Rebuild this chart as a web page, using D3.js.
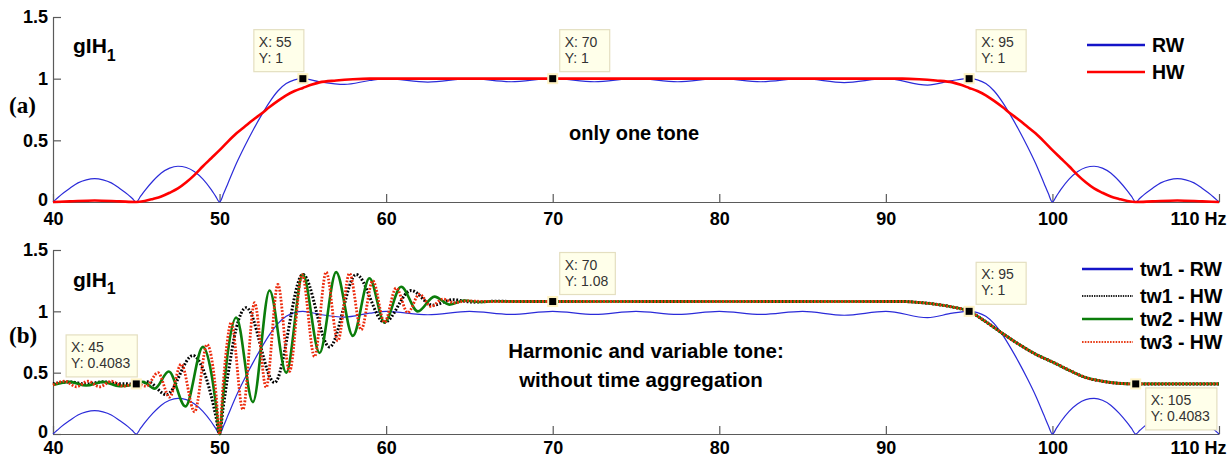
<!DOCTYPE html>
<html>
<head>
<meta charset="utf-8">
<script src="https://cdn.jsdelivr.net/npm/d3@7"></script>
<style>
  body { margin: 0; background: #fff; }
  svg text { font-family: "Liberation Sans", Arial, sans-serif; }
</style>
</head>
<body>
<svg id="chart" width="1232" height="459"></svg>
<script>
// ---- axis ticks ----
const freqTicks = [40, 50, 60, 70, 80, 90, 100, 110];
const freqTickLabels = ["40", "50", "60", "70", "80", "90", "100", "110 Hz"];
const gainTicks = [0, 0.5, 1, 1.5];
const gainTickLabels = ["0", "0.5", "1", "1.5"];

// ---- gain curves, [frequency Hz, gain] ----
// rectangular window (one tone, and tw1 in the lower panel)
const rwGain = [
  [40,0],[40.25,0.03],[40.5,0.06],[41,0.11],[41.5,0.155],[42,0.18],[42.5,0.19],[43,0.18],[43.5,0.155],[44,0.11],[44.5,0.06],[44.75,0.03],[45,0],
  [45.25,0.045],[45.5,0.09],[46,0.17],[46.5,0.235],[47,0.275],[47.5,0.29],[48,0.28],[48.5,0.245],[49,0.185],[49.5,0.1],[49.75,0.05],[50,0],
  [50.25,0.07],[50.5,0.15],[51,0.31],[51.5,0.45],[52,0.58],[52.5,0.7],[53,0.81],[53.5,0.9],[54,0.96],[54.5,0.99],[55,1],
  [56,0.975],[57.5,0.953],[59,0.985],[60,1],[62.5,0.972],[65,1],[67.5,0.975],[70,1],[72.5,0.975],[75,1],[77.5,0.975],[80,1],
  [82.5,0.975],[85,1],[87.5,0.968],[90,1],[92.5,0.948],[94,0.985],[95,1],
  [95.5,0.99],[96,0.96],[96.5,0.9],[97,0.81],[97.5,0.7],[98,0.58],[98.5,0.45],[99,0.31],[99.5,0.15],[99.75,0.07],[100,0],
  [100.25,0.05],[100.5,0.1],[101,0.185],[101.5,0.245],[102,0.28],[102.5,0.29],[103,0.275],[103.5,0.235],[104,0.17],[104.5,0.09],[104.75,0.045],[105,0],
  [105.25,0.03],[105.5,0.06],[106,0.11],[106.5,0.155],[107,0.18],[107.5,0.19],[108,0.18],[108.5,0.155],[109,0.11],[109.5,0.06],[109.75,0.03],[110,0]
];

// Hann window, one tone
const hwGain = [
  [40,0],[41,0.005],[42.5,0.012],[44,0.005],[45,0],[45.5,0.008],[46,0.025],[46.5,0.045],[47,0.075],[47.5,0.11],[48,0.16],
  [48.5,0.22],[49,0.29],[49.5,0.355],[50,0.42],[50.5,0.49],[51,0.555],[51.5,0.61],[52,0.665],[52.5,0.715],[53,0.77],
  [53.5,0.82],[54,0.865],[54.5,0.9],[55,0.925],[55.5,0.95],[56,0.97],[57,0.985],[58,0.995],[59,1],[91,1],
  [92,0.995],[93,0.985],[94,0.97],[94.5,0.95],[95,0.925],[95.5,0.9],[96,0.865],[96.5,0.82],[97,0.77],[97.5,0.715],
  [98,0.665],[98.5,0.61],[99,0.555],[99.5,0.49],[100,0.42],[100.5,0.355],[101,0.29],[101.5,0.22],[102,0.16],[102.5,0.11],
  [103,0.075],[103.5,0.045],[104,0.025],[104.5,0.008],[105,0],[106,0.005],[107.5,0.012],[109,0.005],[110,0]
];

// Hann window, harmonic and variable tone: low-frequency part of each time window
const tw1HwHead = [
  [40,0.41],[41,0.425],[42,0.408],[43,0.425],[44,0.41],[45,0.4083],[45.7,0.425],[46.8,0.32],[48.4,0.64],[49,0.53],
  [49.5,0.31],[49.8,0.13],[50,0],[50.2,0.2],[50.5,0.48],[51,0.86],[51.6,1.03],[53.3,0.42],[55,1.3],[56.6,0.71],
  [58.2,1.3],[59.9,0.91],[61.5,1.17],[62.8,1.05],[64,1.095],[65.2,1.075],[66.5,1.082],[68,1.08]
];
const tw2HwHead = [
  [40,0.4],[41,0.425],[42,0.395],[43,0.425],[44,0.39],[45,0.4083],[45.4,0.425],[46.1,0.37],[46.95,0.51],[47.95,0.225],
  [49,0.71],[49.5,0.5],[49.8,0.22],[50,0],[50.2,0.29],[50.5,0.67],[51,0.95],[52,0.26],[53,1.17],[54,0.5],[55,1.3],
  [56,0.66],[57,1.32],[58,0.8],[59,1.27],[59.9,0.91],[60.9,1.2],[61.9,1],[62.9,1.12],[63.8,1.055],[64.7,1.088],
  [65.6,1.076],[66.5,1.082],[68,1.08]
];
const tw3HwHead = [
  [40,0.4],[40.7,0.43],[41.4,0.385],[42.1,0.43],[42.8,0.385],[43.5,0.43],[44.2,0.39],[45,0.4083],[45.6,0.39],[46.3,0.5],
  [47,0.3],[47.7,0.57],[48.5,0.18],[49.25,0.73],[49.6,0.55],[49.8,0.31],[50,0],[50.2,0.38],[50.4,0.68],[50.7,0.91],
  [51.4,0.2],[52.1,1.07],[52.8,0.38],[53.5,1.22],[54.2,0.51],[54.95,1.3],[55.7,0.63],[56.4,1.32],[57.1,0.76],[57.8,1.31],
  [58.5,0.85],[59.2,1.25],[59.9,0.91],[60.6,1.19],[61.3,0.99],[62,1.14],[62.7,1.04],[63.4,1.1],[64.1,1.07],[64.8,1.085],[66,1.08]
];
// common upper part shared by all three time windows
const twHwTail = [
  [91,1.08],[92,1.072],[93,1.058],[94,1.035],[95,1],[96,0.915],[97,0.82],[98,0.73],[99,0.65],[100,0.587],
  [101,0.52],[102,0.46],[103,0.43],[104,0.413],[105,0.4083],[110,0.4083]
];

// data tips [X, Y]
const tipsA = [[55, 1], [70, 1], [95, 1]];
const tipsB = [[45, 0.4083], [70, 1.08], [95, 1], [105, 0.4083]];

// legend entries
const legendA = ["RW", "HW"];
const legendB = ["tw1 - RW", "tw1 - HW", "tw2 - HW", "tw3 - HW"];

// ---- drawing ----
const svg = d3.select("#chart");
const x = d3.scaleLinear().domain([40, 110]).range([53, 1219]);

const styles = {
  rw:    { stroke: "#2b2bd9", width: 1.2, dash: null },
  hw:    { stroke: "#ff0000", width: 2.6, dash: null },
  tw1:   { stroke: "#000", width: 3, dash: "1.8 1.7" },
  tw2:   { stroke: "#0b7d0b", width: 2.6, dash: null },
  tw3:   { stroke: "#ec2a0c", width: 2.8, dash: "1.8 1.6" }
};
const legendStyles = {
  rw:  { stroke: "#1414c8", width: 2.6, dash: null },
  hw:  { stroke: "#ff0000", width: 2.6, dash: null },
  tw1: { stroke: "#222", width: 1.8, dash: "1.4 1" },
  tw2: { stroke: "#0b7d0b", width: 2.4, dash: null },
  tw3: { stroke: "#e8401c", width: 2, dash: "1.6 1.2" }
};

function applyStyle(sel, s) {
  sel.attr("fill", "none").attr("stroke", s.stroke).attr("stroke-width", s.width);
  if (s.dash) sel.attr("stroke-dasharray", s.dash);
  return sel;
}

function drawAxes(g, y, xPad) {
  const xa = d3.axisBottom(x).tickValues(freqTicks)
    .tickFormat((d, i) => freqTickLabels[i])
    .tickSizeInner(-8).tickSizeOuter(0).tickPadding(xPad);
  const gx = g.append("g").attr("transform", `translate(0,${y(0)})`).call(xa);
  const ya = d3.axisLeft(y).tickValues(gainTicks)
    .tickFormat((d, i) => gainTickLabels[i])
    .tickSizeInner(-8).tickSizeOuter(0).tickPadding(5);
  const gy = g.append("g").attr("transform", `translate(${x(40)},0)`).call(ya);
  [gx, gy].forEach(a => {
    a.attr("font-family", null).attr("font-size", null);
    a.selectAll(".domain, .tick line").attr("stroke", "#5a5a5a").attr("stroke-width", 1.2);
    a.selectAll(".tick text").attr("fill", "#000").attr("font-size", 18).attr("font-weight", "bold");
  });
  // keep the zero label clear of the first frequency label
  gy.selectAll(".tick").filter(d => d === 0).select("text").attr("dy", "0.2em");
  // the unit label rides on the last tick, kept inside the figure
  gx.selectAll(".tick").filter(d => d === 110).select("text")
    .attr("text-anchor", "end").attr("x", 7);
}

function drawCurve(g, y, data, s) {
  const line = d3.line().x(d => x(d[0])).y(d => y(d[1])).curve(d3.curveMonotoneX);
  applyStyle(g.append("path").datum(data).attr("d", line), s);
}

function drawTip(g, y, d, place) {
  const px = x(d[0]), py = y(d[1]);
  const lines = ["X: " + d[0], "Y: " + d[1]];
  const tg = g.append("g");
  const box = tg.append("rect");
  const texts = lines.map(t => tg.append("text").text(t)
    .attr("font-size", 14).attr("fill", "#333"));
  const w = Math.max(50, d3.max(texts, t => t.node().getComputedTextLength()) + 12);
  const h = 42;
  let left, top;
  if (place === "ul") { left = px + 1 - w; top = py - 7 - h; }
  else if (place === "ur") { left = px + 7; top = py - 7 - h; }
  else { left = px + 10; top = py + 4; }
  box.attr("x", left).attr("y", top).attr("width", w).attr("height", h)
    .attr("fill", "#ffffea").attr("stroke", "#e4dfc0").attr("stroke-width", 1.2);
  texts.forEach((t, i) => t.attr("x", left + 5).attr("y", top + 17 + i * 16));
  g.append("rect").attr("x", px - 4.5).attr("y", py - 4.5).attr("width", 9).attr("height", 9)
    .attr("fill", "#000").attr("stroke", "#fff3c4").attr("stroke-width", 2);
}

function drawTitle(g, baseY, subDy) {
  const t = g.append("text").attr("x", 73).attr("y", baseY)
    .attr("font-size", 21).attr("font-weight", "bold").attr("fill", "#000");
  t.append("tspan").text("gIH");
  t.append("tspan").text("1").attr("font-size", 16).attr("dy", subDy);
}

function drawLegend(g, entries, keys, rows, x0, x1, tx) {
  entries.forEach((name, i) => {
    applyStyle(g.append("line").attr("x1", x0).attr("x2", x1).attr("y1", rows[i]).attr("y2", rows[i]),
      legendStyles[keys[i]]);
    g.append("text").attr("x", tx).attr("y", rows[i] + 7).text(name)
      .attr("font-size", 19.5).attr("font-weight", "bold").attr("fill", "#000");
  });
}

function panelLabel(g, text, baseY) {
  g.append("text").attr("x", 9).attr("y", baseY).text(text)
    .style("font-family", "'Liberation Serif', 'Times New Roman', serif")
    .attr("font-size", 23).attr("font-weight", "bold").attr("fill", "#000");
}

// ---- panel (a): one tone ----
{
  const g = svg.append("g");
  const y = d3.scaleLinear().domain([0, 1.5]).range([202, 17]);
  drawAxes(g, y, 10);
  drawCurve(g, y, rwGain, styles.rw);
  drawCurve(g, y, hwGain, styles.hw);
  tipsA.forEach((d, i) => drawTip(g, y, d, ["ul", "ur", "ur"][i]));
  drawTitle(g, 53, 8);
  panelLabel(g, "(a)", 113);
  drawLegend(g, legendA, ["rw", "hw"], [45, 72], 1087, 1145, 1152);
  g.append("text").attr("x", 634).attr("y", 140).attr("text-anchor", "middle")
    .text("only one tone").attr("font-size", 20).attr("font-weight", "bold").attr("fill", "#000");
}

// ---- panel (b): harmonic and variable tone ----
{
  const g = svg.append("g");
  const y = d3.scaleLinear().domain([0, 1.5]).range([434, 250]);
  drawAxes(g, y, 7);
  drawCurve(g, y, rwGain, styles.rw);
  drawCurve(g, y, tw1HwHead.concat(twHwTail), styles.tw1);
  drawCurve(g, y, tw2HwHead.concat(twHwTail), styles.tw2);
  drawCurve(g, y, tw3HwHead.concat(twHwTail), styles.tw3);
  tipsB.forEach((d, i) => drawTip(g, y, d, ["ul", "ur", "ur", "lr"][i]));
  drawTitle(g, 287, 7);
  panelLabel(g, "(b)", 343);
  drawLegend(g, legendB, ["rw", "tw1", "tw2", "tw3"], [269, 296, 319, 342], 1082, 1133, 1140);
  const ann = g.append("g").attr("font-size", 20.5).attr("font-weight", "bold").attr("fill", "#000");
  ann.append("text").attr("x", 646).attr("y", 358).attr("text-anchor", "middle").text("Harmonic and variable tone:");
  ann.append("text").attr("x", 641).attr("y", 387).attr("text-anchor", "middle").text("without time aggregation");
}
</script>
</body>
</html>
